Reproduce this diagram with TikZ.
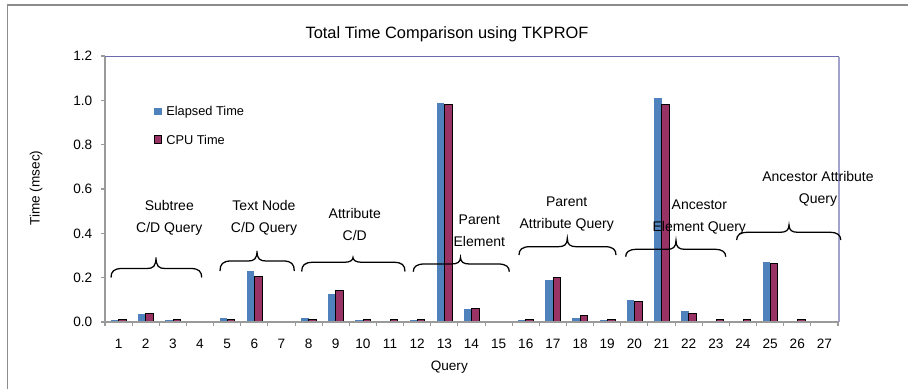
\documentclass[tikz,border=0pt]{standalone}
\usepackage{fontspec}
\setmainfont{Liberation Sans}
\definecolor{elapsedblue}{HTML}{4F81BD}
\definecolor{cpuplum}{HTML}{993366}
\definecolor{framegray}{HTML}{8C8C8C}
\definecolor{axisgray}{HTML}{9A9A9A}
\definecolor{plottop}{HTML}{6B6BAE}
\definecolor{plotright}{HTML}{A3A3CF}

% curly brace: left x, right x, end y, bar y, tip y, tip x
\newcommand\groupbrace[6]{%
  \draw[bracestyle] (#1,#3) .. controls (#1,{#4+3}) and ({#1+3},#4) .. ({#1+11},#4)
    -- ({#6-9},#4) .. controls ({#6-3},#4) and (#6,{#4-2}) .. (#6,#5)
    .. controls (#6,{#4-2}) and ({#6+3},#4) .. ({#6+9},#4)
    -- ({#2-11},#4) .. controls ({#2-3},#4) and (#2,{#4+3}) .. (#2,#3);}

\begin{document}
\begin{tikzpicture}[x=0.75pt,y=-0.75pt,
  bracestyle/.style={draw=black,line width=0.95pt},
  elapsedbar/.style={fill=elapsedblue,draw=none},
  cpubar/.style={fill=cpuplum,draw=black,line width=0.5pt},
  ticklabel/.style={font=\fontsize{10.2}{12}\selectfont,inner sep=0pt},
  grouplabel/.style={font=\fontsize{10.5}{16.5}\selectfont,align=center,inner sep=0pt},
  legendtext/.style={font=\fontsize{9.6}{11}\selectfont,anchor=west,inner sep=0pt}]
\useasboundingbox (0,0) rectangle (908,389);
\fill[white] (0,0) rectangle (908,389);

% chart frame (left and top edges)
\draw[framegray,line width=1pt] (7.7,392) -- (7.7,5) -- (912,5);

% title
\node[font=\fontsize{12.3}{14}\selectfont,inner sep=0pt] (title) at (447,34) {Total Time Comparison using TKPROF};

% bars: elapsed time
\foreach \i/\v in {1/.009,2/.036,3/.009,5/.018,6/.230,8/.018,9/.126,10/.009,12/.009,
  13/.989,14/.057,16/.007,17/.190,18/.020,19/.008,20/.100,21/1.010,22/.050,25/.272}
  \path[elapsedbar] ({83.83+27.148*\i},322) rectangle ({91.43+27.148*\i},{322-\v*221.67});
% bars: CPU time
\foreach \i/\v in {1/.013,2/.040,3/.013,5/.013,6/.208,8/.013,9/.143,10/.013,11/.013,
  12/.013,13/.982,14/.062,16/.013,17/.200,18/.032,19/.013,20/.095,21/.980,22/.040,
  23/.013,24/.013,25/.263,26/.013}
  \path[cpubar] ({91.43+27.148*\i},322) rectangle ({99.03+27.148*\i},{322-\v*221.67});

% plot area border and axes
\draw[plottop,line width=0.9pt] (105,56.5) -- (839,56.5);
\draw[plotright,line width=1.2pt] (839,56.5) -- (839,322);
\draw[axisgray,line width=0.9pt] (105,56.5) -- (105,322) -- (839,322);
\foreach \k in {0,...,6}
  \draw[axisgray,line width=0.8pt] (101,{322-\k*44.33}) -- (105,{322-\k*44.33});
\foreach \j in {0,...,27}
  \draw[axisgray,line width=0.8pt] ({105+27.148*\j},322) -- ({105+27.148*\j},326);

% axis labels
\foreach \k/\lab in {0/0.0,1/0.2,2/0.4,3/0.6,4/0.8,5/1.0,6/1.2}
  \node[ticklabel,anchor=east] (y\k) at (92.5,{322-\k*44.33}) {\lab};
\foreach \i in {1,...,27}
  \node[ticklabel] (q\i) at ({91.426+27.148*\i},344) {\i};
\node[ticklabel] (xtitle) at (449.3,367) {Query};
\node[ticklabel,rotate=90] (ytitle) at (36,188) {Time (msec)};

% legend
\path[elapsedbar] (154.3,107.7) rectangle (161.7,115.1);
\node[legendtext] (legelapsed) at (166,112) {Elapsed Time};
\path[cpubar] (154,135.5) rectangle (161.5,143);
\node[legendtext] (legcpu) at (166,140.2) {CPU Time};

% query group braces
\groupbrace{111}{201.7}{277.5}{268.5}{257.3}{156}
\groupbrace{220}{294.3}{271}{261}{251}{257}
\groupbrace{301.7}{405}{271.5}{262.3}{257.5}{353}
\groupbrace{413.3}{509.3}{271.7}{264}{257.3}{460.5}
\groupbrace{519}{616}{255}{246.7}{238.3}{567.3}
\groupbrace{625.7}{725.7}{256.7}{249.3}{240.5}{676}
\groupbrace{736.7}{840.7}{240}{232.3}{225}{789}

% query group labels
\node[grouplabel] (g1) at (169.3,218.2) {Subtree\\C/D Query};
\node[grouplabel] (g2) at (264,218.2) {Text Node\\C/D Query};
\node[grouplabel] (g3) at (354.8,224.8) {Attribute\\C/D};
\node[grouplabel] (g4) at (479.3,230.5) {Parent\\Element};
\node[grouplabel] (g5) at (566.7,213.7) {Parent\\Attribute Query};
\node[grouplabel] (g6) at (699.3,216.7) {Ancestor\\Element Query};
\node[grouplabel] (g7) at (818,188.5) {Ancestor Attribute\\Query};
\end{tikzpicture}
\end{document}
